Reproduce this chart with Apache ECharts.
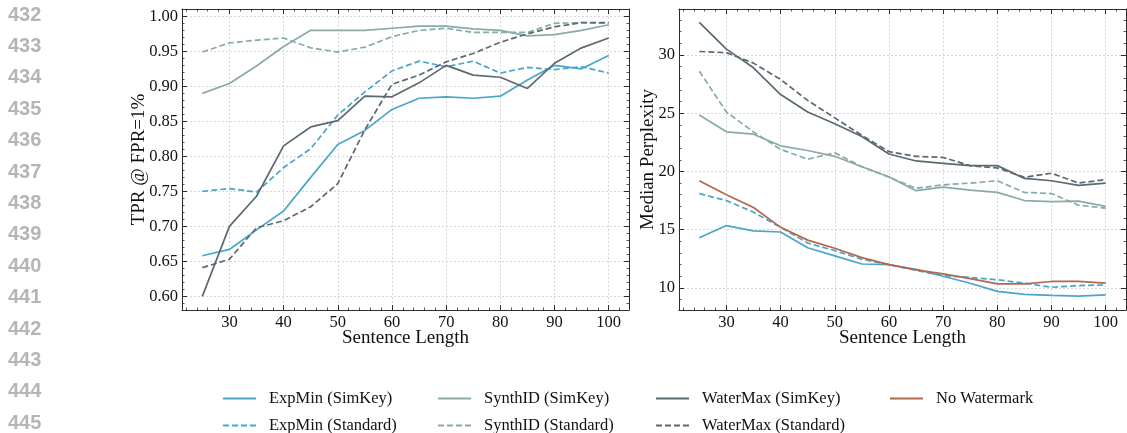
<!DOCTYPE html>
<html>
<head>
<meta charset="utf-8">
<script src="https://cdn.jsdelivr.net/npm/echarts@6/dist/echarts.min.js"></script>
<style>
html, body { margin: 0; padding: 0; background: #fff; }
#chart { width: 1127px; height: 433px; }
</style>
</head>
<body>
<div id="chart"></div>
<script>
const sentenceLengths = [25, 30, 35, 40, 45, 50, 55, 60, 65, 70, 75, 80, 85, 90, 95, 100]

// TPR @ FPR=1% (left panel)
const tprExpMinSimKey = [0.658, 0.667, 0.695, 0.722, 0.770, 0.817, 0.837, 0.867, 0.883, 0.885, 0.883, 0.886, 0.909, 0.930, 0.925, 0.944]
const tprExpMinStandard = [0.750, 0.754, 0.749, 0.784, 0.811, 0.859, 0.892, 0.922, 0.936, 0.928, 0.936, 0.919, 0.927, 0.924, 0.928, 0.919]
const tprSynthIdSimKey = [0.890, 0.904, 0.929, 0.957, 0.980, 0.980, 0.980, 0.983, 0.986, 0.986, 0.982, 0.980, 0.972, 0.974, 0.980, 0.988]
const tprSynthIdStandard = [0.949, 0.962, 0.966, 0.969, 0.955, 0.949, 0.956, 0.971, 0.980, 0.983, 0.977, 0.977, 0.977, 0.990, 0.991, 0.990]
const tprWaterMaxSimKey = [0.600, 0.700, 0.743, 0.815, 0.842, 0.851, 0.886, 0.885, 0.905, 0.930, 0.916, 0.913, 0.897, 0.933, 0.955, 0.969]
const tprWaterMaxStandard = [0.641, 0.653, 0.698, 0.708, 0.728, 0.761, 0.838, 0.903, 0.916, 0.935, 0.947, 0.963, 0.975, 0.985, 0.991, 0.991]

// Median perplexity (right panel)
const pplExpMinSimKey = [14.3, 15.35, 14.9, 14.8, 13.45, 12.75, 12.05, 12.0, 11.6, 11.0, 10.4, 9.7, 9.45, 9.35, 9.3, 9.4]
const pplExpMinStandard = [18.1, 17.5, 16.5, 15.2, 13.85, 13.2, 12.45, 12.0, 11.5, 11.05, 10.9, 10.7, 10.4, 10.05, 10.2, 10.25]
const pplSynthIdSimKey = [24.85, 23.4, 23.2, 22.2, 21.8, 21.3, 20.4, 19.55, 18.35, 18.65, 18.4, 18.2, 17.5, 17.4, 17.45, 17.0]
const pplSynthIdStandard = [28.6, 25.1, 23.4, 21.9, 21.05, 21.6, 20.4, 19.5, 18.55, 18.85, 19.0, 19.2, 18.2, 18.1, 17.1, 16.85]
const pplWaterMaxSimKey = [32.8, 30.5, 28.9, 26.6, 25.1, 24.1, 23.0, 21.5, 20.9, 20.7, 20.5, 20.5, 19.4, 19.2, 18.8, 19.0]
const pplWaterMaxStandard = [30.3, 30.2, 29.3, 27.9, 26.1, 24.6, 23.1, 21.7, 21.3, 21.2, 20.5, 20.3, 19.5, 19.85, 19.0, 19.3]
const pplNoWatermark = [19.2, 18.0, 16.9, 15.2, 14.1, 13.4, 12.6, 12.0, 11.55, 11.2, 10.8, 10.35, 10.35, 10.55, 10.55, 10.4]

const lineNumbers = [432, 433, 434, 435, 436, 437, 438, 439, 440, 441, 442, 443, 444, 445]

const serif = '"Liberation Serif", "DejaVu Serif", serif'
const axisColor = '#2b2b2b'
const colors = {
	expmin: '#49a6c8',
	synthid: '#88aaa9',
	watermax: '#5b6a70',
	nowm: '#b3674b',
}

const xRange = { min: 21.25, max: 103.75 }
const tprRange = { min: 0.5805, max: 1.0105 }
const pplRange = { min: 8.1, max: 33.95 }

const steps = (from, to, step, skip) => {
	const out = []
	for (let i = 0; from + i * step <= to + 1e-9; i++) {
		const v = +(from + i * step).toFixed(4)
		if (!skip(v)) out.push(v)
	}
	return out
}

const xMinor = steps(22, 102, 2, v => v % 10 === 0)
const tprMinor = steps(0.59, 1.0, 0.01, v => Math.abs(v * 20 - Math.round(v * 20)) < 1e-6)
const pplMinor = steps(9, 33, 1, v => v % 5 === 0)

const mainAxis = (gridIndex, position, range, splitNumber, labels, extra) => ({
	type: 'value',
	gridIndex,
	position,
	min: range.min,
	max: range.max,
	splitNumber,
	axisLine: { show: true, onZero: false, lineStyle: { color: axisColor, width: 1 } },
	axisTick: { show: true, inside: true, length: 5, lineStyle: { color: axisColor, width: 1 } },
	axisLabel: labels
		? {
			show: true,
			showMinLabel: false,
			showMaxLabel: false,
			margin: 4,
			color: '#111',
			fontFamily: serif,
			fontSize: 16.5,
			formatter: labels,
		}
		: { show: false },
	splitLine: labels
		? { show: true, lineStyle: { color: '#cdcdcd', width: 0.8, type: [2, 2] } }
		: { show: false },
	...extra,
})

const minorAxis = (gridIndex, position, range, values) => ({
	type: 'value',
	gridIndex,
	position,
	min: range.min,
	max: range.max,
	axisLine: { show: false, onZero: false },
	axisLabel: { show: false },
	splitLine: { show: false },
	axisTick: { show: true, inside: true, length: 2.5, customValues: values, lineStyle: { color: axisColor, width: 0.8 } },
})

const nameStyle = { color: '#111', fontFamily: serif, fontSize: 19 }

const xAxes = [0, 1].map(g =>
	mainAxis(g, 'bottom', xRange, 8, v => String(Math.round(v)), {
		name: 'Sentence Length',
		nameLocation: 'middle',
		nameGap: 19,
		nameMoveOverlap: false,
		nameTextStyle: { ...nameStyle, verticalAlign: 'top' },
	}),
)
const yAxes = [
	mainAxis(0, 'left', tprRange, 9, v => v.toFixed(2), {
		name: 'TPR @ FPR=1%',
		nameLocation: 'middle',
		nameGap: 33,
		nameMoveOverlap: false,
		nameTextStyle: nameStyle,
	}),
	mainAxis(1, 'left', pplRange, 5, v => String(Math.round(v)), {
		name: 'Median Perplexity',
		nameLocation: 'middle',
		nameGap: 21,
		nameMoveOverlap: false,
		nameTextStyle: nameStyle,
	}),
]

// frame: top/right axes plus minor ticks on every side
;[0, 1].forEach(g => {
	const yRange = g === 0 ? tprRange : pplRange
	const ySplit = g === 0 ? 9 : 5
	const yMinor = g === 0 ? tprMinor : pplMinor
	xAxes.push(mainAxis(g, 'top', xRange, 8, null, {}))
	xAxes.push(minorAxis(g, 'bottom', xRange, xMinor))
	xAxes.push(minorAxis(g, 'top', xRange, xMinor))
	yAxes.push(mainAxis(g, 'right', yRange, ySplit, null, {}))
	yAxes.push(minorAxis(g, 'left', yRange, yMinor))
	yAxes.push(minorAxis(g, 'right', yRange, yMinor))
})

const makeLine = (name, values, color, dashed, gridIndex) => ({
	name,
	type: 'line',
	xAxisIndex: gridIndex,
	yAxisIndex: gridIndex,
	data: sentenceLengths.map((x, i) => [x, values[i]]),
	symbol: 'none',
	lineStyle: { color, width: 1.7, type: dashed ? [6, 3] : 'solid' },
	itemStyle: { color },
	z: 3,
})

const series = [
	makeLine('ExpMin (SimKey)', tprExpMinSimKey, colors.expmin, false, 0),
	makeLine('ExpMin (Standard)', tprExpMinStandard, colors.expmin, true, 0),
	makeLine('SynthID (SimKey)', tprSynthIdSimKey, colors.synthid, false, 0),
	makeLine('SynthID (Standard)', tprSynthIdStandard, colors.synthid, true, 0),
	makeLine('WaterMax (SimKey)', tprWaterMaxSimKey, colors.watermax, false, 0),
	makeLine('WaterMax (Standard)', tprWaterMaxStandard, colors.watermax, true, 0),
	makeLine('ExpMin (SimKey)', pplExpMinSimKey, colors.expmin, false, 1),
	makeLine('ExpMin (Standard)', pplExpMinStandard, colors.expmin, true, 1),
	makeLine('SynthID (SimKey)', pplSynthIdSimKey, colors.synthid, false, 1),
	makeLine('SynthID (Standard)', pplSynthIdStandard, colors.synthid, true, 1),
	makeLine('WaterMax (SimKey)', pplWaterMaxSimKey, colors.watermax, false, 1),
	makeLine('WaterMax (Standard)', pplWaterMaxStandard, colors.watermax, true, 1),
	makeLine('No Watermark', pplNoWatermark, colors.nowm, false, 1),
]

const legendColumns = [
	{ left: 222, data: ['ExpMin (SimKey)', 'ExpMin (Standard)'] },
	{ left: 437, data: ['SynthID (SimKey)', 'SynthID (Standard)'] },
	{ left: 655, data: ['WaterMax (SimKey)', 'WaterMax (Standard)'] },
	{ left: 889, data: ['No Watermark'] },
]

const legend = legendColumns.map(col => ({
	orient: 'vertical',
	left: col.left,
	top: 390,
	height: 80,
	padding: 0,
	itemWidth: 33,
	itemHeight: 14,
	itemGap: 10,
	selectedMode: false,
	data: col.data,
	itemStyle: { opacity: 0 },
	textStyle: { color: '#111', fontFamily: serif, fontSize: 16.5, lineHeight: 14, padding: [0, 0, 0, 8] },
}))

const graphic = lineNumbers.map((n, i) => ({
	type: 'text',
	left: 8,
	top: 5 + i * 31.4,
	style: { text: String(n), font: 'bold 20px "Liberation Sans", Arial, sans-serif', fill: '#b5b5b5' },
}))

const myChart = echarts.init(document.getElementById('chart'), null, { renderer: 'canvas' })

const option = {
	animation: false,
	backgroundColor: '#fff',
	grid: [
		{ left: 182, top: 9, width: 447, height: 301 },
		{ left: 679, top: 9, width: 447, height: 301 },
	],
	xAxis: xAxes,
	yAxis: yAxes,
	legend,
	graphic,
	series,
}

myChart.setOption(option)
</script>
</body>
</html>
